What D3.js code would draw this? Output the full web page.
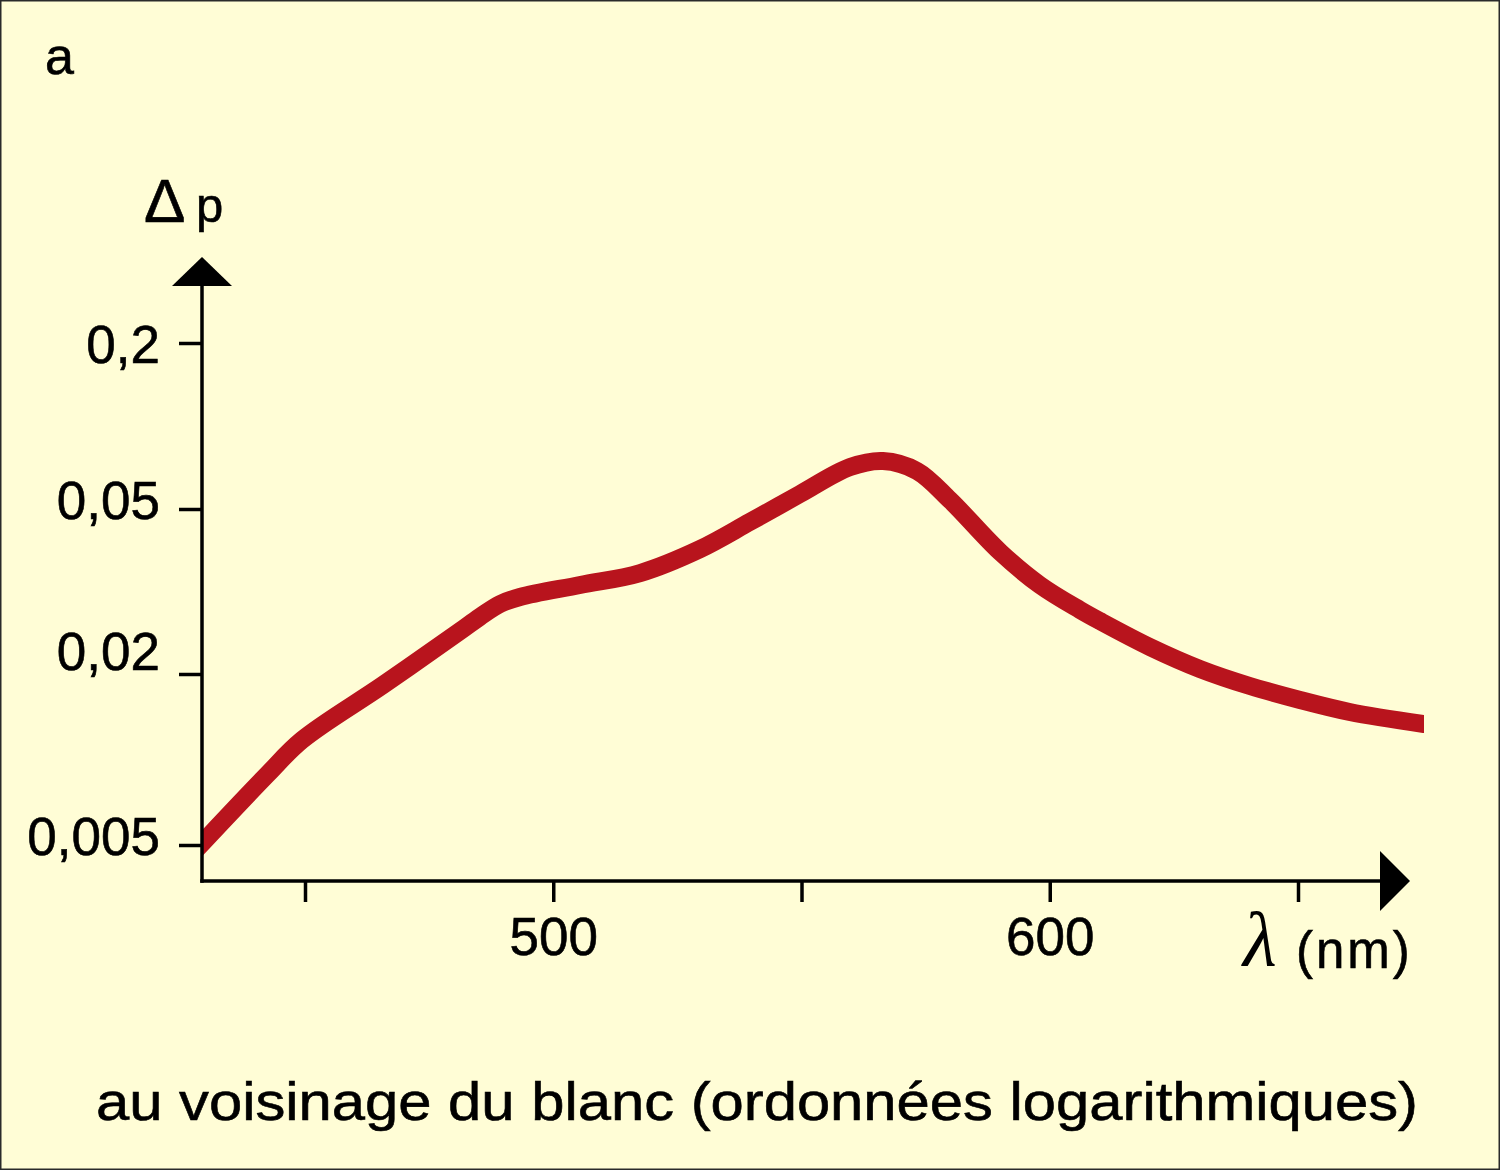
<!DOCTYPE html>
<html><head><meta charset="utf-8">
<script src="https://cdn.jsdelivr.net/npm/d3@7"></script>
<style>html,body{margin:0;padding:0;background:#FFFDD6;} svg{display:block;}</style>
</head><body>
<script>
// ---- data ----
const wavelengths = [429.3, 442.5, 449.4, 465.7, 481.0, 485.2, 489.3, 493.3, 505.4, 517.5, 529.6, 539.6, 549.7, 559.8, 566.4, 573.3, 579.9, 590.0, 598.0, 606.1, 610.1, 620.2, 630.3, 640.3, 650.4, 660.4, 675.4];
const deltaP = [0.00508, 0.00889, 0.01171, 0.01829, 0.02526, 0.02745, 0.0295, 0.03067, 0.03279, 0.03504, 0.04004, 0.04652, 0.05667, 0.0710, 0.07465, 0.06867, 0.0539, 0.03938, 0.03279, 0.02854, 0.02684, 0.02323, 0.02056, 0.01815, 0.0162, 0.0147, 0.01333];
const xTicks = [450, 500, 550, 600, 650];
const xTickLabels = ["", "500", "", "600", ""];
const yTicks = [0.005, 0.02, 0.05, 0.2];
const yTickLabels = ["0,005", "0,02", "0,05", "0,2"];
const panelLabel = "a";
const yTitle = ["Δ", "p"];
const xTitle = ["λ", "(nm)"];
const caption = "au voisinage du blanc (ordonnées logarithmiques)";

// ---- layout ----
const W = 1500, H = 1170;
const axisX0 = 202, axisY0 = 881;
const font = "'Liberation Sans', Arial, Helvetica, sans-serif";
const textStroke = 0.6;

const svg = d3.select("body").append("svg").attr("width", W).attr("height", H);
svg.append("rect").attr("x", 0.75).attr("y", 0.75).attr("width", W - 1.5).attr("height", H - 1.5)
  .attr("fill", "#FFFDD6").attr("stroke", "#2a2a2a").attr("stroke-width", 1.5);

const x = d3.scaleLinear().domain([450, 650]).range([305, 1298]);
const y = d3.scaleLog().domain(yTicks).range([845, 674, 509, 343]);

// curve
const data = wavelengths.map((w, i) => [w, deltaP[i]]);
svg.append("clipPath").attr("id", "clip").append("rect")
  .attr("x", axisX0).attr("y", 0).attr("width", x(d3.max(wavelengths)) - axisX0).attr("height", H);
svg.append("path").datum(data)
  .attr("clip-path", "url(#clip)")
  .attr("fill", "none").attr("stroke", "#B8141D").attr("stroke-width", 18)
  .attr("stroke-linecap", "square").attr("stroke-linejoin", "round")
  .attr("d", d3.line().x(d => x(d[0])).y(d => y(d[1])).curve(d3.curveCatmullRom.alpha(0.5)));

// axes lines + arrows
const ax = svg.append("g").attr("stroke", "#000").attr("stroke-width", 3.5);
ax.append("line").attr("x1", axisX0).attr("x2", axisX0).attr("y1", 283).attr("y2", axisY0 + 1.75);
ax.append("line").attr("x1", axisX0 - 1.75).attr("x2", 1385).attr("y1", axisY0).attr("y2", axisY0);
svg.append("path").attr("fill", "#000")
  .attr("d", `M${axisX0},257 L${axisX0 + 30},286 L${axisX0 - 30},286 Z`);
svg.append("path").attr("fill", "#000")
  .attr("d", `M1410,${axisY0} L1380,${axisY0 - 30} L1380,${axisY0 + 30} Z`);

// x axis ticks
const gx = svg.append("g").attr("transform", `translate(0,${axisY0})`)
  .call(d3.axisBottom(x).tickValues(xTicks).tickFormat((d, i) => xTickLabels[i]).tickSize(21).tickPadding(15));
gx.select(".domain").remove();
gx.selectAll(".tick line").attr("stroke", "#000").attr("stroke-width", 3.5);
gx.selectAll(".tick text").attr("font-family", font).attr("font-size", 53).attr("fill", "#000")
  .attr("stroke", "#000").attr("stroke-width", textStroke);

// y axis ticks
const labelNudge = {0.005: 9, 0.02: -5, 0.05: 9, 0.2: 19};
const gy = svg.append("g").attr("transform", `translate(${axisX0},0)`)
  .call(d3.axisLeft(y).tickValues(yTicks).tickFormat((d, i) => yTickLabels[i]).tickSize(23).tickPadding(19));
gy.select(".domain").remove();
gy.selectAll(".tick line").attr("stroke", "#000").attr("stroke-width", 3.5);
gy.selectAll(".tick text").attr("font-family", font).attr("font-size", 53).attr("fill", "#000")
  .attr("stroke", "#000").attr("stroke-width", textStroke)
  .attr("dy", null).attr("y", d => labelNudge[d]);

// texts
const t = (xx, yy, size, str) => svg.append("text").attr("x", xx).attr("y", yy)
  .attr("font-family", font).attr("font-size", size).attr("fill", "#000")
  .attr("stroke", "#000").attr("stroke-width", textStroke).text(str);
t(45, 74, 52, panelLabel);
t(144, 222, 62, yTitle[0]);
t(196, 222, 49, yTitle[1]);
svg.append("text").attr("x", 1243).attr("y", 966).attr("font-family", "'Liberation Serif', 'Times New Roman', serif")
  .attr("font-style", "italic").attr("font-size", 78).text(xTitle[0]);
t(1296, 968, 51, xTitle[1]).attr("letter-spacing", 3);
t(96, 1120, 54, caption).attr("textLength", 1322).attr("lengthAdjust", "spacingAndGlyphs");
</script>
</body></html>
